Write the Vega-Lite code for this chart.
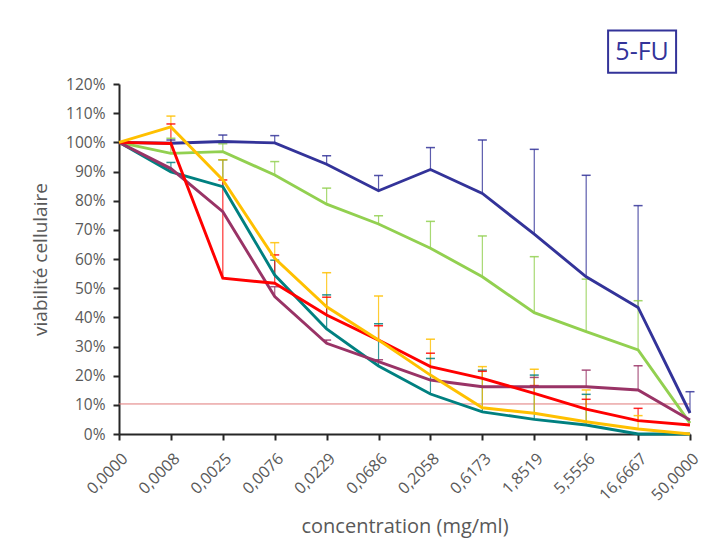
{
  "$schema": "https://vega.github.io/schema/vega-lite/v6.json",
  "width": 571,
  "height": 350,
  "autosize": "none",
  "padding": {"left": 119, "top": 84, "right": 22, "bottom": 115},
  "background": "white",
  "config": {
    "view": {"stroke": null},
    "font": "Open Sans",
    "axis": {
      "grid": false,
      "domainColor": "#262626",
      "domainWidth": 2,
      "tickColor": "#262626",
      "tickWidth": 2,
      "tickSize": 6,
      "labelColor": "#595959",
      "titleColor": "#595959",
      "titleFontWeight": "normal",
      "labelFont": "Open Sans",
      "titleFont": "Open Sans"
    },
    "axisY": {"labelOverlap": false, "labelFontSize": 15.5, "titleFontSize": 19, "titlePadding": 15, "labelPadding": 8},
    "axisX": {"labelAngle": -45, "labelFontSize": 16, "titleFontSize": 20, "titlePadding": 13, "labelPadding": 10}
  },
  "datasets": {
    "series": [
      {"c": "0,0000", "s": "A", "v": 1.0, "u": null},
      {"c": "0,0008", "s": "A", "v": 0.997, "u": 1.008},
      {"c": "0,0025", "s": "A", "v": 1.003, "u": 1.025},
      {"c": "0,0076", "s": "A", "v": 0.998, "u": 1.023},
      {"c": "0,0229", "s": "A", "v": 0.925, "u": 0.954},
      {"c": "0,0686", "s": "A", "v": 0.834, "u": 0.886},
      {"c": "0,2058", "s": "A", "v": 0.907, "u": 0.982},
      {"c": "0,6173", "s": "A", "v": 0.825, "u": 1.008},
      {"c": "1,8519", "s": "A", "v": 0.685, "u": 0.976},
      {"c": "5,5556", "s": "A", "v": 0.539, "u": 0.887},
      {"c": "16,6667", "s": "A", "v": 0.434, "u": 0.783},
      {"c": "50,0000", "s": "A", "v": 0.072, "u": 0.145},
      {"c": "0,0000", "s": "B", "v": 1.0, "u": null},
      {"c": "0,0008", "s": "B", "v": 0.962, "u": 1.014},
      {"c": "0,0025", "s": "B", "v": 0.968, "u": 0.995},
      {"c": "0,0076", "s": "B", "v": 0.888, "u": 0.934},
      {"c": "0,0229", "s": "B", "v": 0.788, "u": 0.843},
      {"c": "0,0686", "s": "B", "v": 0.72, "u": 0.748},
      {"c": "0,2058", "s": "B", "v": 0.637, "u": 0.729},
      {"c": "0,6173", "s": "B", "v": 0.539, "u": 0.679},
      {"c": "1,8519", "s": "B", "v": 0.416, "u": 0.608},
      {"c": "5,5556", "s": "B", "v": 0.351, "u": 0.531},
      {"c": "16,6667", "s": "B", "v": 0.288, "u": 0.457},
      {"c": "50,0000", "s": "B", "v": 0.037, "u": null},
      {"c": "0,0000", "s": "C", "v": 1.0, "u": null},
      {"c": "0,0008", "s": "C", "v": 0.899, "u": 0.931},
      {"c": "0,0025", "s": "C", "v": 0.848, "u": 0.94},
      {"c": "0,0076", "s": "C", "v": 0.545, "u": 0.596},
      {"c": "0,0229", "s": "C", "v": 0.36, "u": 0.477},
      {"c": "0,0686", "s": "C", "v": 0.233, "u": 0.378},
      {"c": "0,2058", "s": "C", "v": 0.137, "u": 0.259},
      {"c": "0,6173", "s": "C", "v": 0.076, "u": 0.219},
      {"c": "1,8519", "s": "C", "v": 0.05, "u": 0.202},
      {"c": "5,5556", "s": "C", "v": 0.031, "u": 0.136},
      {"c": "16,6667", "s": "C", "v": 0.0, "u": null},
      {"c": "50,0000", "s": "C", "v": 0.0, "u": null},
      {"c": "0,0000", "s": "E", "v": 1.0, "u": null},
      {"c": "0,0008", "s": "E", "v": 0.91, "u": null},
      {"c": "0,0025", "s": "E", "v": 0.762, "u": null},
      {"c": "0,0076", "s": "E", "v": 0.471, "u": 0.505},
      {"c": "0,0229", "s": "E", "v": 0.311, "u": 0.322},
      {"c": "0,0686", "s": "E", "v": 0.248, "u": 0.255},
      {"c": "0,2058", "s": "E", "v": 0.185, "u": null},
      {"c": "0,6173", "s": "E", "v": 0.162, "u": null},
      {"c": "1,8519", "s": "E", "v": 0.162, "u": 0.194},
      {"c": "5,5556", "s": "E", "v": 0.162, "u": 0.219},
      {"c": "16,6667", "s": "E", "v": 0.151, "u": 0.234},
      {"c": "50,0000", "s": "E", "v": 0.048, "u": null},
      {"c": "0,0000", "s": "D", "v": 1.0, "u": null},
      {"c": "0,0008", "s": "D", "v": 0.996, "u": 1.063},
      {"c": "0,0025", "s": "D", "v": 0.534, "u": 0.871},
      {"c": "0,0076", "s": "D", "v": 0.517, "u": 0.614},
      {"c": "0,0229", "s": "D", "v": 0.408, "u": 0.469},
      {"c": "0,0686", "s": "D", "v": 0.322, "u": 0.371},
      {"c": "0,2058", "s": "D", "v": 0.231, "u": 0.277},
      {"c": "0,6173", "s": "D", "v": 0.191, "u": 0.215},
      {"c": "1,8519", "s": "D", "v": 0.139, "u": 0.166},
      {"c": "5,5556", "s": "D", "v": 0.085, "u": 0.119},
      {"c": "16,6667", "s": "D", "v": 0.046, "u": 0.088},
      {"c": "50,0000", "s": "D", "v": 0.031, "u": null},
      {"c": "0,0000", "s": "F", "v": 1.0, "u": null},
      {"c": "0,0008", "s": "F", "v": 1.053, "u": 1.09},
      {"c": "0,0025", "s": "F", "v": 0.871, "u": 0.94},
      {"c": "0,0076", "s": "F", "v": 0.602, "u": 0.656},
      {"c": "0,0229", "s": "F", "v": 0.436, "u": 0.553},
      {"c": "0,0686", "s": "F", "v": 0.322, "u": 0.473},
      {"c": "0,2058", "s": "F", "v": 0.202, "u": 0.325},
      {"c": "0,6173", "s": "F", "v": 0.09, "u": 0.231},
      {"c": "1,8519", "s": "F", "v": 0.071, "u": 0.222},
      {"c": "5,5556", "s": "F", "v": 0.042, "u": 0.151},
      {"c": "16,6667", "s": "F", "v": 0.017, "u": 0.063},
      {"c": "50,0000", "s": "F", "v": 0.0, "u": null}
    ]
  },
  "layer": [
    {
      "data": {"values": [{"v": 0.103}]},
      "mark": {"type": "rule", "color": "#E07A7A", "strokeWidth": 1},
      "encoding": {
        "y": {"field": "v", "type": "quantitative",
          "scale": {"domain": [0, 1.2], "nice": false, "zero": true},
          "title": "viabilité cellulaire",
          "axis": {"values": [0,0.1,0.2,0.3,0.4,0.5,0.6,0.7,0.8,0.9,1.0,1.1,1.2], "format": ".0%", "labelOverlap": false}}
      }
    },
    {
      "data": {"name": "series"},
      "transform": [{"filter": "datum.u != null"}],
      "mark": {"type": "rule", "strokeWidth": 1.2, "opacity": 0.8},
      "encoding": {
        "x": {"field": "c", "type": "ordinal", "sort": ["0,0000","0,0008","0,0025","0,0076","0,0229","0,0686","0,2058","0,6173","1,8519","5,5556","16,6667","50,0000"],
          "scale": {"type": "point", "padding": 0},
          "title": "concentration (mg/ml)"},
        "y": {"field": "v", "type": "quantitative", "title": "viabilité cellulaire",
          "axis": {"values": [0,0.1,0.2,0.3,0.4,0.5,0.6,0.7,0.8,0.9,1.0,1.1,1.2], "format": ".0%", "labelOverlap": false}},
        "y2": {"field": "u"},
        "color": {"field": "s", "type": "nominal", "legend": null,
          "scale": {"domain": ["A","B","C","D","E","F"], "range": ["#333399","#92D050","#008080","#FF0000","#993366","#FFC000"]}}
      }
    },
    {
      "data": {"name": "series"},
      "transform": [{"filter": "datum.u != null"}],
      "mark": {"type": "tick", "size": 9, "thickness": 1.5, "opacity": 0.85},
      "encoding": {
        "x": {"field": "c", "type": "ordinal", "sort": ["0,0000","0,0008","0,0025","0,0076","0,0229","0,0686","0,2058","0,6173","1,8519","5,5556","16,6667","50,0000"], "title": "concentration (mg/ml)"},
        "y": {"field": "u", "type": "quantitative", "title": "viabilité cellulaire",
          "axis": {"values": [0,0.1,0.2,0.3,0.4,0.5,0.6,0.7,0.8,0.9,1.0,1.1,1.2], "format": ".0%", "labelOverlap": false}},
        "color": {"field": "s", "type": "nominal", "legend": null}
      }
    },
    {
      "data": {"name": "series"},
      "mark": {"type": "line", "strokeWidth": 2.9},
      "encoding": {
        "x": {"field": "c", "type": "ordinal",
          "sort": ["0,0000","0,0008","0,0025","0,0076","0,0229","0,0686","0,2058","0,6173","1,8519","5,5556","16,6667","50,0000"],
          "title": "concentration (mg/ml)"},
        "y": {"field": "v", "type": "quantitative",
          "title": "viabilité cellulaire",
          "axis": {"values": [0,0.1,0.2,0.3,0.4,0.5,0.6,0.7,0.8,0.9,1.0,1.1,1.2], "format": ".0%", "labelOverlap": false}},
        "color": {"field": "s", "type": "nominal", "legend": null}
      }
    },
    {
      "data": {"values": [{"c": "16,6667", "v": 1.311, "t": "5-FU"}]},
      "mark": {"type": "point", "shape": "M-1,-0.618H1V0.618H-1Z", "size": 4624, "filled": false, "stroke": "#333399", "strokeWidth": 2, "opacity": 1, "xOffset": 4},
      "encoding": {
        "x": {"field": "c", "type": "ordinal", "sort": ["0,0000","0,0008","0,0025","0,0076","0,0229","0,0686","0,2058","0,6173","1,8519","5,5556","16,6667","50,0000"], "title": "concentration (mg/ml)"},
        "y": {"field": "v", "type": "quantitative", "title": "viabilité cellulaire",
          "axis": {"values": [0,0.1,0.2,0.3,0.4,0.5,0.6,0.7,0.8,0.9,1.0,1.1,1.2], "format": ".0%", "labelOverlap": false}}
      }
    },
    {
      "data": {"values": [{"c": "16,6667", "v": 1.311, "t": "5-FU"}]},
      "mark": {"type": "text", "fontSize": 25, "color": "#333399", "dx": 4, "align": "center", "baseline": "middle", "font": "Open Sans"},
      "encoding": {
        "x": {"field": "c", "type": "ordinal", "sort": ["0,0000","0,0008","0,0025","0,0076","0,0229","0,0686","0,2058","0,6173","1,8519","5,5556","16,6667","50,0000"], "title": "concentration (mg/ml)"},
        "y": {"field": "v", "type": "quantitative", "title": "viabilité cellulaire",
          "axis": {"values": [0,0.1,0.2,0.3,0.4,0.5,0.6,0.7,0.8,0.9,1.0,1.1,1.2], "format": ".0%", "labelOverlap": false}},
        "text": {"field": "t"}
      }
    }
  ]
}
